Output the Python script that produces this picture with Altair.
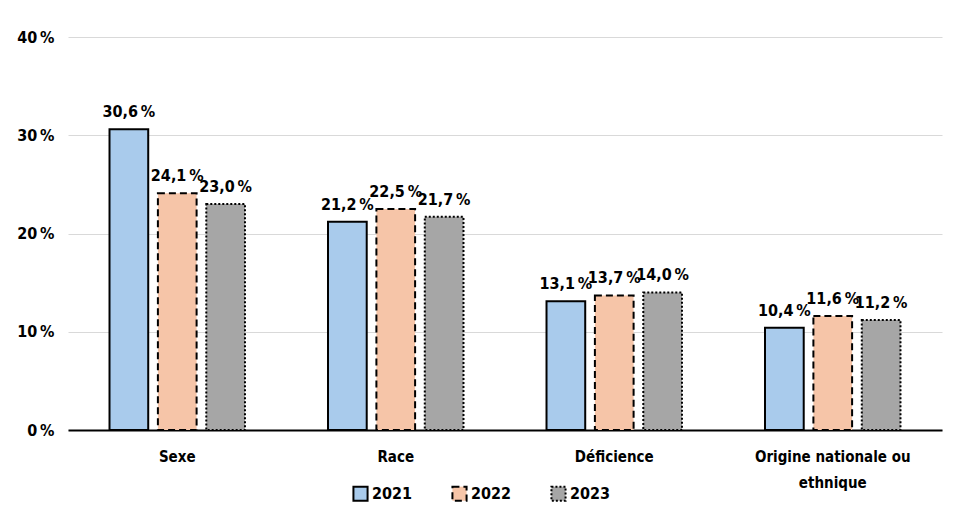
import altair as alt
import pandas as pd

categories = ["Sexe", "Race", "Déficience", "Origine nationale ou ethnique"]
years = ["2021", "2022", "2023"]
v2021 = [30.6, 21.2, 13.1, 10.4]
v2022 = [24.1, 22.5, 13.7, 11.6]
v2023 = [23.0, 21.7, 14.0, 11.2]

rows = []
for yr, vals in zip(years, [v2021, v2022, v2023]):
    for c, v in zip(categories, vals):
        rows.append({"cat": c, "year": yr, "value": v,
                     "label": f"{v:.1f}".replace(".", ",") + "\u202f%"})
df = pd.DataFrame(rows)

FONT = "DejaVu Sans Condensed, Liberation Sans Narrow, Arial"

xenc = alt.X("cat:N", sort=categories, title=None,
             scale=alt.Scale(paddingInner=0.38, paddingOuter=0.19),
             axis=alt.Axis(labelAngle=0, labelFont=FONT, labelFontSize=15,
                           labelFontWeight="bold", labelColor="black",
                           labelPadding=19, labelLineHeight=26,
                           ticks=False, domainColor="black", domainWidth=2,
                           labelExpr="datum.label == 'Origine nationale ou ethnique' ? ['Origine nationale ou', 'ethnique'] : datum.label"))
xoff = alt.XOffset("year:N", sort=years, scale=alt.Scale(paddingInner=0.2))
yenc = alt.Y("value:Q", title=None,
             scale=alt.Scale(domain=[0, 40]),
             axis=alt.Axis(values=[0, 10, 20, 30, 40], labelExpr="datum.value + '\u202f%'",
                           labelFont=FONT, labelFontSize=16, labelFontWeight="bold",
                           labelColor="black", labelPadding=14, domain=False, ticks=False,
                           gridColor="#D9D9D9", gridWidth=1))

bars = alt.Chart(df).mark_bar(stroke="black", strokeWidth=2).encode(
    x=xenc, xOffset=xoff, y=yenc,
    fill=alt.Fill("year:N", sort=years, title=None,
                  scale=alt.Scale(domain=years, range=["#A9CBEC", "#F6C5A8", "#A6A6A6"]),
                  legend=alt.Legend(orient="none", legendX=284, legendY=448,
                                    direction="horizontal", columns=3,
                                    labelFont=FONT, labelFontSize=16, labelFontWeight="bold",
                                    labelColor="black", symbolType="square", symbolSize=200,
                                    symbolStrokeColor="black", symbolStrokeWidth=2,
                                    columnPadding=35, labelOffset=3)),
    strokeDash=alt.StrokeDash("year:N", sort=years, title=None,
                              scale=alt.Scale(domain=years, range=[[1, 0], [7, 4], [2, 2]])),
)

labels = alt.Chart(df).mark_text(dy=-17, font=FONT, fontSize=16, fontWeight="bold",
                                 color="black").encode(
    x=xenc, xOffset=xoff, y=yenc, text="label:N")

frame = alt.Chart(pd.DataFrame({"a": [0]})).mark_rect(
    fill="transparent", stroke="#C8C8C8", strokeWidth=1, strokeDash=[2, 2], clip=False).encode(
    x=alt.value(-66), x2=alt.value(891), y=alt.value(-35), y2=alt.value(492))

chart = alt.layer(frame, bars, labels).properties(
    width=874, height=393,
    autosize=alt.AutoSizeParams(type="none"),
    padding={"left": 60, "top": 29, "right": 11, "bottom": 94},
).configure(background="white", view=alt.ViewConfig(stroke=None))

chart.save("out.html", embed_options={"renderer": "svg", "actions": False})
